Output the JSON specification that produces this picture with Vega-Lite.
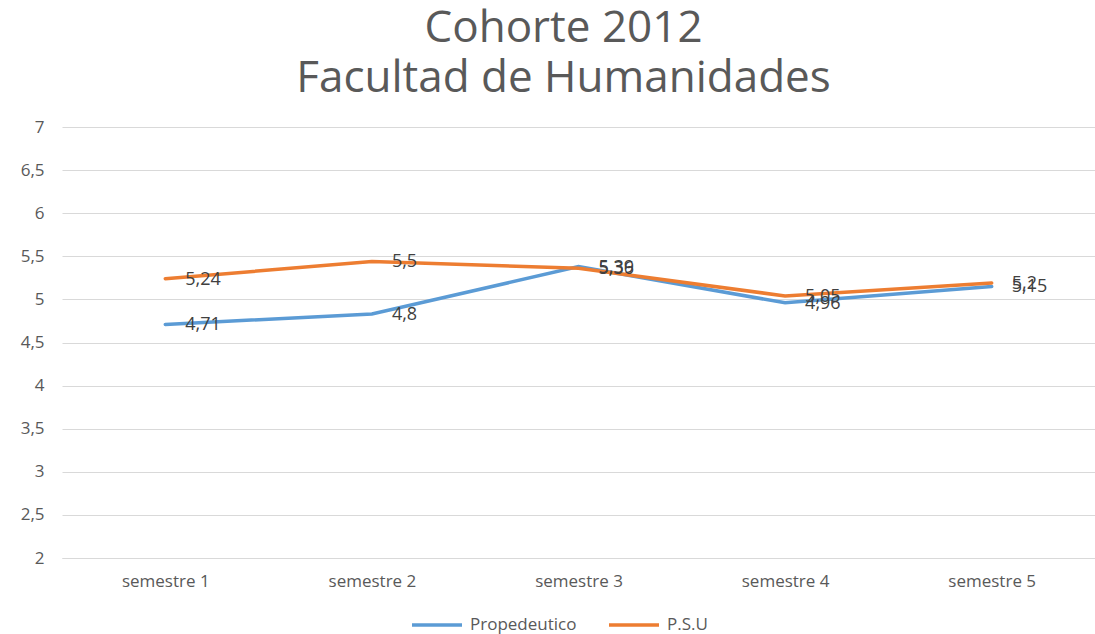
{
  "$schema": "https://vega.github.io/schema/vega-lite/v6.json",
  "width": 1033,
  "height": 431,
  "autosize": {"type": "none"},
  "padding": {"left": 62, "top": 127, "right": 0, "bottom": 76},
  "title": {
    "text": ["Cohorte 2012", "Facultad de Humanidades"],
    "fontSize": 44,
    "font": "Open Sans",
    "fontWeight": "normal",
    "color": "#595959",
    "anchor": "middle",
    "offset": 17,
    "dx": -15,
    "lineHeight": 50
  },
  "config": {
    "locale": {"number": {"decimal": ",", "thousands": ".", "grouping": [3], "currency": ["", " €"]}},
    "view": {"stroke": null},
    "font": "Open Sans"
  },
  "data": {
    "values": [
      {"sem": "semestre 1", "serie": "Propedeutico", "value": 4.71, "label": "4,71"},
      {"sem": "semestre 2", "serie": "Propedeutico", "value": 4.83, "label": "4,8"},
      {"sem": "semestre 3", "serie": "Propedeutico", "value": 5.38, "label": "5,39"},
      {"sem": "semestre 4", "serie": "Propedeutico", "value": 4.96, "label": "4,96"},
      {"sem": "semestre 5", "serie": "Propedeutico", "value": 5.15, "label": "5,15"},
      {"sem": "semestre 1", "serie": "P.S.U", "value": 5.24, "label": "5,24"},
      {"sem": "semestre 2", "serie": "P.S.U", "value": 5.44, "label": "5,5"},
      {"sem": "semestre 3", "serie": "P.S.U", "value": 5.36, "label": "5,36"},
      {"sem": "semestre 4", "serie": "P.S.U", "value": 5.04, "label": "5,05"},
      {"sem": "semestre 5", "serie": "P.S.U", "value": 5.19, "label": "5,2"}
    ]
  },
  "encoding": {
    "x": {
      "field": "sem", "type": "ordinal", "sort": null,
      "scale": {"type": "point", "padding": 0.5},
      "axis": {
        "title": null, "labelAngle": 0, "ticks": false, "domainColor": "#d9d9d9",
        "labelColor": "#595959", "labelFontSize": 17, "labelPadding": 15
      }
    },
    "y": {
      "field": "value", "type": "quantitative",
      "scale": {"domain": [2, 7], "nice": false, "zero": false},
      "axis": {
        "title": null, "values": [2, 2.5, 3, 3.5, 4, 4.5, 5, 5.5, 6, 6.5, 7],
        "format": "~r", "domain": false, "ticks": false, "gridColor": "#d9d9d9",
        "labelColor": "#595959", "labelFontSize": 17, "labelPadding": 18
      }
    },
    "color": {
      "field": "serie", "type": "nominal",
      "scale": {"domain": ["Propedeutico", "P.S.U"], "range": ["#5B9BD5", "#ED7D31"]},
      "legend": {
        "title": null, "orient": "none", "direction": "horizontal",
        "legendX": 348, "legendY": 471,
        "symbolType": "stroke", "symbolSize": 2500, "symbolStrokeWidth": 3.5,
        "labelFontSize": 17, "labelColor": "#595959", "columnPadding": 25, "labelOffset": 6
      }
    }
  },
  "layer": [
    {"mark": {"type": "line", "strokeWidth": 3.5, "strokeCap": "round"}},
    {
      "mark": {"type": "text", "align": "left", "baseline": "middle", "dx": 20, "dy": 1, "fontSize": 18, "color": "#404040"},
      "encoding": {"text": {"field": "label"}, "color": {"value": "#404040"}}
    }
  ]
}
